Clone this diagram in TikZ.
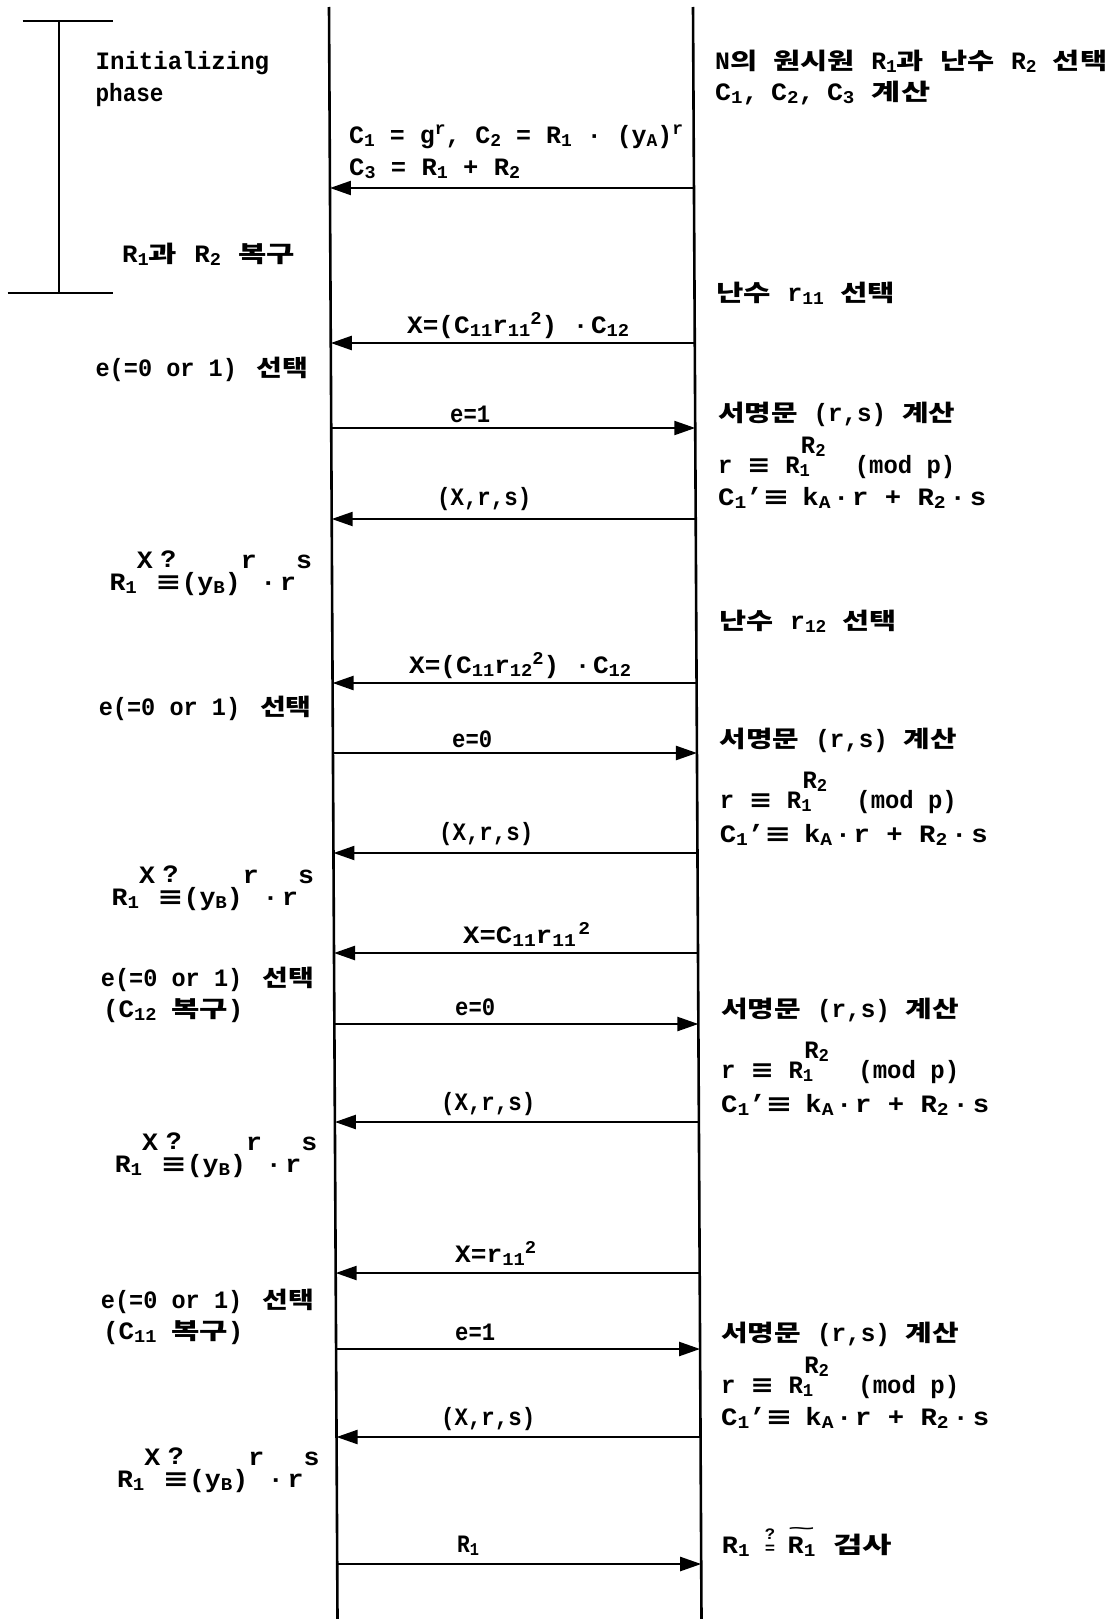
\documentclass[tikz,border=0pt]{standalone}
\usepackage{fontspec}
\usepackage{graphicx}
\setmainfont{Liberation Mono}[FakeStretch=0.85]
\newfontfamily\krf{Noto Sans CJK KR}[FakeStretch=1.1]
\newfontfamily\symf{DejaVu Sans}
\usetikzlibrary{arrows.meta,calc}

\newcommand\K[1]{{\krf\fontsize{23}{30}\selectfont #1}}
\newcommand\sbs[1]{\raisebox{-3pt}{\fontsize{18}{18}\selectfont #1}}
\newcommand\spx[1]{\raisebox{9pt}{\fontsize{18}{18}\selectfont #1}}
\newcommand\hii[1]{\raisebox{22pt}{#1}}
\newcommand\eqv{{\symf ≡}}
\newcommand\fw[2]{\resizebox{#1pt}{\height}{#2}}
\newcommand\stk[2]{\begin{tabular}[b]{@{}c@{}}#1\\[-7pt]#2\end{tabular}}
\newcommand\qeq{{\fontsize{16}{16}\selectfont\begin{tabular}[b]{@{}c@{}}?\\[-2pt]=\end{tabular}}}
\newcommand\tld[1]{\setbox0=\hbox{#1}\rlap{\raisebox{20pt}{\resizebox{\wd0}{6pt}{\textasciitilde}}}\box0\relax}
\newcommand\chk{\fw{202.5}{R\sbs{1}\hii{X}\hspace{2pt}\stk{?}{\eqv}(y\sbs{B})\hii{r}\hspace{3pt}·\hspace{3pt}r\hii{s}}}
\newcommand\sig[1]{\fw{#1}{\K{서명문}\hspace{14pt}(r,s)\hspace{14pt}\K{계산}}}
\newcommand\modp[1]{\fw{#1}{r\hspace{13pt}\eqv\hspace{13pt}R\sbs{1}\hspace{-8pt}\raisebox{20pt}{R\sbs{2}}\hspace{26pt}(mod p)}}
\newcommand\cpr{\fw{268}{C\sbs{1}'\eqv\hspace{10pt}k\sbs{A}\hspace{2pt}·\hspace{2pt}r + R\sbs{2}\hspace{3pt}·\hspace{3pt}s}}
\newcommand\esel{\fw{213}{e(=0 or 1)\hspace{18pt}\K{선택}}}
\newcommand\xrs{\fw{94}{(X,r,s)}}

\tikzset{
  txt/.style={anchor=base west, inner sep=0pt, font=\fontsize{25}{30}\selectfont\bfseries},
  life/.style={line width=2.6pt},
  brk/.style={line width=2pt},
  msg/.style={line width=2.3pt, -{Triangle[length=21pt,width=14pt]}}
}

\begin{document}
\begin{tikzpicture}[x=1pt,y=-1pt]
\useasboundingbox (0,0) rectangle (1116,1619);

% lifelines
\coordinate (LT) at (329,7);
\coordinate (LB) at (337.5,1619);
\coordinate (RT) at (693,7);
\coordinate (RB) at (701.5,1619);
\draw[life] (LT) -- (LB);
\draw[life] (RT) -- (RB);

% initializing bracket
\coordinate (b1) at (22.5,21);
\coordinate (b2) at (112.5,21);
\coordinate (b3) at (7.5,293);
\coordinate (b4) at (112.5,293);
\coordinate (bt) at (59,21);
\coordinate (bb) at (59,293);
\draw[brk] (b1) -- (b2);
\draw[brk] (b3) -- (b4);
\draw[brk] (bt) -- (bb);

% message coordinates on lifelines
\foreach \y/\n in {188/m1,343/m2,428/m3,519/m4,683/m5,753/m6,853/m7,953/m8,1024/m9,1122/m10,1273/m11,1349/m12,1437/m13,1564/m14}{
  \coordinate (\n L) at ({329+8.5*\y/1619},\y);
  \coordinate (\n R) at ({693+8.5*\y/1619},\y);
}
\draw[msg] (m1R) -- (m1L);
\draw[msg] (m2R) -- (m2L);
\draw[msg] (m3L) -- (m3R);
\draw[msg] (m4R) -- (m4L);
\draw[msg] (m5R) -- (m5L);
\draw[msg] (m6L) -- (m6R);
\draw[msg] (m7R) -- (m7L);
\draw[msg] (m8R) -- (m8L);
\draw[msg] (m9L) -- (m9R);
\draw[msg] (m10R) -- (m10L);
\draw[msg] (m11R) -- (m11L);
\draw[msg] (m12L) -- (m12R);
\draw[msg] (m13R) -- (m13L);
\draw[msg] (m14L) -- (m14R);

% arrow labels
\node[txt] (l1a) at (349,143) {\fw{334}{C\sbs{1} = g\spx{r}, C\sbs{2} = R\sbs{1} · (y\sbs{A})\spx{r}}};
\node[txt] (l1b) at (349,175) {\fw{171}{C\sbs{3} = R\sbs{1} + R\sbs{2}}};
\node[txt] (l2) at (407,333) {\fw{222}{X=(C\sbs{11}r\sbs{11}\spx{2}) ·\hspace{2pt}C\sbs{12}}};
\node[txt] (l3) at (450,422) {\fw{40}{e=1}};
\node[txt] (l4) at (437,505) {\xrs};
\node[txt] (l5) at (409,673) {\fw{222}{X=(C\sbs{11}r\sbs{12}\spx{2}) ·\hspace{2pt}C\sbs{12}}};
\node[txt] (l6) at (452,747) {\fw{40}{e=0}};
\node[txt] (l7) at (439,840) {\xrs};
\node[txt] (l8) at (463,943) {\fw{127}{X=C\sbs{11}r\sbs{11}\hspace{2pt}\spx{2}}};
\node[txt] (l9) at (455,1015) {\fw{40}{e=0}};
\node[txt] (l10) at (441,1110) {\xrs};
\node[txt] (l11) at (455,1262) {\fw{81}{X=r\sbs{11}\spx{2}}};
\node[txt] (l12) at (455,1340) {\fw{40}{e=1}};
\node[txt] (l13) at (441,1425) {\xrs};
\node[txt] (l14) at (457,1552) {R\sbs{1}};

% left column
\node[txt] (init1) at (95.4,70) {\fw{173.6}{Initializing}};
\node[txt] (init2) at (95.4,101) {\fw{68}{phase}};
\node[txt] (rec) at (122,262) {\fw{172.5}{R\sbs{1}\K{과}\hspace{14pt}R\sbs{2}\hspace{14pt}\K{복구}}};
\node[txt] (e1) at (95.4,376) {\esel};
\node[txt] (k1) at (109.3,590) {\chk};
\node[txt] (e2) at (98.6,715) {\esel};
\node[txt] (k2) at (111.4,905) {\chk};
\node[txt] (e3) at (100.7,986) {\esel};
\node[txt] (e3b) at (102.9,1017) {\fw{140.4}{(C\sbs{12}\hspace{12pt}\K{복구})}};
\node[txt] (k3) at (114.6,1172) {\chk};
\node[txt] (e4) at (100.7,1308) {\esel};
\node[txt] (e4b) at (102.9,1339) {\fw{140.4}{(C\sbs{11}\hspace{12pt}\K{복구})}};
\node[txt] (k4) at (116.8,1487) {\chk};

% right column
\node[txt] (n1) at (715,70) {\fw{392}{N\K{의}\hspace{14pt}\K{원시원}\hspace{14pt}R\sbs{1}\K{과}\hspace{14pt}\K{난수}\hspace{14pt}R\sbs{2}\hspace{14pt}\K{선택}}};
\node[txt] (n2) at (715,100) {\fw{215}{C\sbs{1},\hspace{10pt}C\sbs{2},\hspace{10pt}C\sbs{3}\hspace{14pt}\K{계산}}};
\node[txt] (n3) at (716,301) {\fw{179}{\K{난수}\hspace{14pt}r\sbs{11}\hspace{14pt}\K{선택}}};
\node[txt] (s1) at (718,421) {\sig{237}};
\node[txt] (p1) at (718,473) {\modp{237}};
\node[txt] (c1) at (718,505) {\cpr};
\node[txt] (n4) at (719.6,629) {\fw{177}{\K{난수}\hspace{14pt}r\sbs{12}\hspace{14pt}\K{선택}}};
\node[txt] (s2) at (719.6,747) {\sig{237}};
\node[txt] (p2) at (719.6,808) {\modp{237}};
\node[txt] (c2) at (719.6,842) {\cpr};
\node[txt] (s3) at (721,1017) {\sig{238}};
\node[txt] (p3) at (721,1078) {\modp{238}};
\node[txt] (c3) at (721,1112) {\cpr};
\node[txt] (s4) at (721,1341) {\sig{238}};
\node[txt] (p4) at (721,1393) {\modp{238}};
\node[txt] (c4) at (721,1425) {\cpr};
\node[txt] (fin) at (721.7,1553) {\fw{170}{R\sbs{1}\hspace{12pt}\qeq\hspace{10pt}\tld{R\sbs{1}}\hspace{14pt}\K{검사}}};
\end{tikzpicture}
\end{document}
